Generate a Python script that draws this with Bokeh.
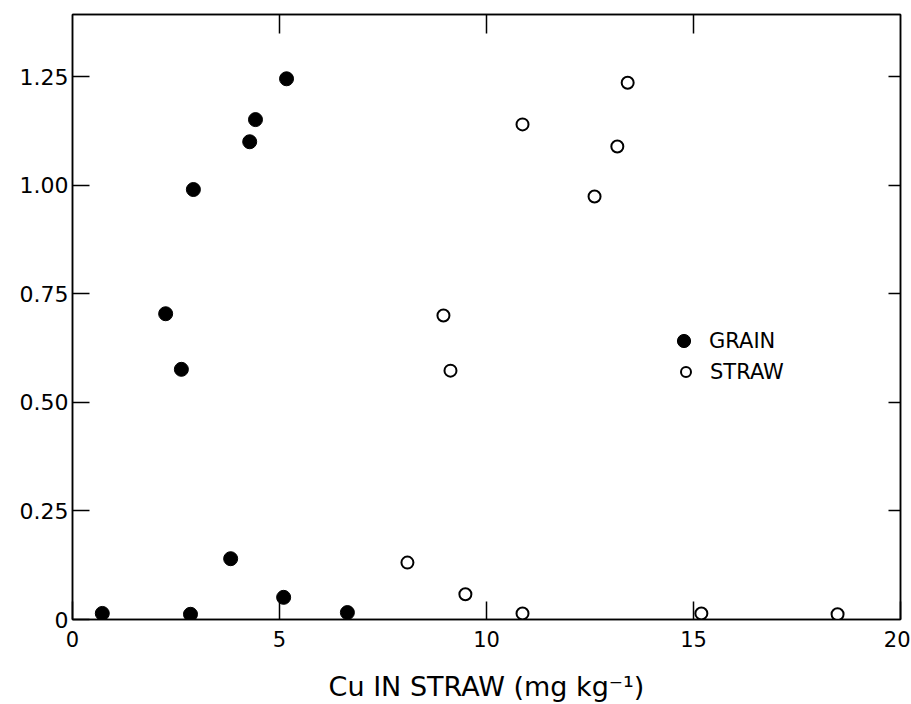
from bokeh.plotting import figure
from bokeh.models import Range1d, LinearAxis, FixedTicker, Legend, LegendItem, CustomJSTickFormatter
from bokeh.embed import file_html
from bokeh.resources import INLINE

# Data
grain_x = [0.72, 2.85, 3.82, 5.10, 6.64, 2.25, 2.63, 2.92, 4.28, 4.42, 5.17]
grain_y = [0.014, 0.012, 0.140, 0.051, 0.016, 0.704, 0.576, 0.990, 1.100, 1.151, 1.245]
straw_x = [8.96, 9.13, 10.87, 13.41, 13.16, 12.61, 8.09, 9.49, 10.87, 15.19, 18.48]
straw_y = [0.700, 0.573, 1.140, 1.236, 1.089, 0.974, 0.131, 0.058, 0.014, 0.014, 0.012]

x_ticks = [0, 5, 10, 15, 20]
x_tick_labels = ["0", "5", "10", "15", "20"]
y_ticks = [0, 0.25, 0.5, 0.75, 1.0, 1.25]
y_tick_labels = ["0", "0.25", "0.50", "0.75", "1.00", "1.25"]
x_label = "Cu IN STRAW (mg kg\u207b\u00b9)"

FONT = "DejaVu Sans"

p = figure(frame_width=828, frame_height=605,
           x_range=Range1d(0, 20), y_range=Range1d(0, 1.393),
           output_backend="svg", toolbar_location=None,
           min_border_left=72, min_border_right=10, min_border_top=14, min_border_bottom=60)

p.grid.visible = False
p.outline_line_color = "black"
p.outline_line_width = 1.5
p.background_fill_color = "white"
p.border_fill_color = "white"

# bottom axis
xa = p.xaxis[0]
xa.ticker = FixedTicker(ticks=x_ticks)
xa.major_label_overrides = {t: l for t, l in zip(x_ticks, x_tick_labels)}
xa.major_tick_in = 18
xa.major_tick_out = 0
xa.minor_tick_line_color = None
xa.major_label_standoff = 11
xa.major_label_text_font = FONT
xa.major_label_text_font_size = "21px"
xa.major_label_text_color = "black"
xa.axis_label = x_label
xa.axis_label_text_font = FONT
xa.axis_label_text_font_size = "27px"
xa.axis_label_text_font_style = "normal"
xa.axis_label_text_color = "black"
xa.axis_label_standoff = 21
xa.axis_line_width = 1.5
xa.major_tick_line_width = 1.5

# left axis
ya = p.yaxis[0]
ya.ticker = FixedTicker(ticks=y_ticks)
ya.major_label_overrides = {t: l for t, l in zip(y_ticks, y_tick_labels)}
ya.major_tick_in = 17
ya.major_tick_out = 0
ya.minor_tick_line_color = None
ya.major_label_standoff = 4
ya.major_label_text_font = FONT
ya.major_label_text_font_size = "22px"
ya.major_label_text_color = "black"
ya.axis_line_width = 1.5
ya.major_tick_line_width = 1.5

blank = CustomJSTickFormatter(code="return ''")

top = LinearAxis(ticker=FixedTicker(ticks=x_ticks[1:-1]), formatter=blank,
                 major_tick_in=19, major_tick_out=0, minor_tick_line_color=None,
                 major_label_standoff=0, axis_line_width=1.5, major_tick_line_width=1.5,
                 major_label_text_font_size="1px")
p.add_layout(top, "above")

right = LinearAxis(ticker=FixedTicker(ticks=y_ticks[1:]), formatter=blank,
                   major_tick_in=12, major_tick_out=0, minor_tick_line_color=None,
                   major_label_standoff=0, axis_line_width=1.5, major_tick_line_width=1.5,
                   major_label_text_font_size="1px")
p.add_layout(right, "right")

r_grain = p.scatter(grain_x, grain_y, size=14, marker="circle",
                    fill_color="black", line_color="black", line_width=1)
r_straw = p.scatter(straw_x, straw_y, size=12, marker="circle",
                    fill_color="white", line_color="black", line_width=2)

leg1 = Legend(items=[LegendItem(label="GRAIN", renderers=[r_grain])],
              location=(595, 262), glyph_width=33, glyph_height=33, label_standoff=9,
              padding=0, margin=0, border_line_color=None, background_fill_alpha=0,
              label_text_font=FONT, label_text_font_size="21px", label_text_color="black")
leg2 = Legend(items=[LegendItem(label="STRAW", renderers=[r_straw])],
              location=(601, 235), glyph_width=25, glyph_height=25, label_standoff=12,
              padding=0, margin=0, border_line_color=None, background_fill_alpha=0,
              label_text_font=FONT, label_text_font_size="21px", label_text_color="black")
p.add_layout(leg1)
p.add_layout(leg2)

open("out.html", "w").write(file_html(p, INLINE))
